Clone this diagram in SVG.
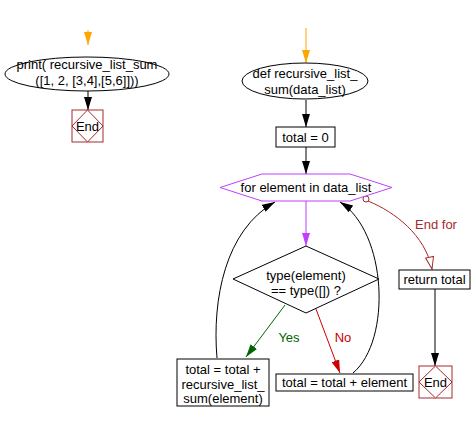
<svg xmlns="http://www.w3.org/2000/svg" width="474" height="422" viewBox="0 0 474 422">
<style>
text{font-family:"Liberation Sans",Arial,sans-serif;font-size:13px;fill:#000;text-anchor:middle}
.n{fill:#fff;stroke:#000;stroke-width:1}
.e{fill:#fff;stroke:#a52a2a;stroke-width:1}
.c{fill:none;stroke:#000;stroke-width:1}
</style>
<defs>
<marker id="ab" viewBox="0 0 13 8" refX="13" refY="4" markerWidth="13" markerHeight="8" markerUnits="userSpaceOnUse" orient="auto"><path d="M0,0 L13,4 L0,8 z" fill="#000"/></marker>
<marker id="ao" viewBox="0 0 13 8" refX="13" refY="4" markerWidth="13" markerHeight="8" markerUnits="userSpaceOnUse" orient="auto"><path d="M0,0 L13,4 L0,8 z" fill="#ffa500"/></marker>
<marker id="ap" viewBox="0 0 13 8" refX="13" refY="4" markerWidth="13" markerHeight="8" markerUnits="userSpaceOnUse" orient="auto"><path d="M0,0 L13,4 L0,8 z" fill="#bf40ff"/></marker>
<marker id="ag" viewBox="0 0 13 8" refX="13" refY="4" markerWidth="13" markerHeight="8" markerUnits="userSpaceOnUse" orient="auto"><path d="M0,0 L13,4 L0,8 z" fill="#006400"/></marker>
<marker id="ar" viewBox="0 0 13 8" refX="13" refY="4" markerWidth="13" markerHeight="8" markerUnits="userSpaceOnUse" orient="auto"><path d="M0,0 L13,4 L0,8 z" fill="#cc0000"/></marker>
<marker id="aw" viewBox="0 0 14 10" refX="13" refY="5" markerWidth="14" markerHeight="10" markerUnits="userSpaceOnUse" orient="auto"><path d="M1,1 L13,5 L1,9 z" fill="#fff" stroke="#a52a2a"/></marker>
</defs>
<g id="connectors">
<path d="M88,30 L88,45" stroke="#ffa500" stroke-width="1" marker-end="url(#ao)"/>
<path d="M88,91 L88,110" class="c" marker-end="url(#ab)"/>
<path d="M306,28 L306,63" stroke="#ffa500" stroke-width="1" marker-end="url(#ao)"/>
<path d="M306,100 L306,127" class="c" marker-end="url(#ab)"/>
<path d="M306,147 L306,174" class="c" marker-end="url(#ab)"/>
<path d="M306,201 L306,246" stroke="#bf40ff" stroke-width="1" marker-end="url(#ap)"/>
<path d="M285,305 L246,357" stroke="#006400" stroke-width="1" fill="none" marker-end="url(#ag)"/>
<text x="289" y="342" style="fill:#006400">Yes</text>
<path d="M316,309 L340,373" stroke="#cc0000" stroke-width="1" fill="none" marker-end="url(#ar)"/>
<text x="343" y="342" style="fill:#cc0000">No</text>
<path d="M217,358 C212,300 225,230 275,202" class="c" marker-end="url(#ab)"/>
<path d="M353,373 C392,340 387,232 340,202" class="c" marker-end="url(#ab)"/>
<path d="M368,201 C395,212 425,235 432,269" fill="none" stroke="#a52a2a" stroke-width="1" marker-end="url(#aw)"/>
<circle cx="366" cy="199" r="3" fill="#fff" stroke="#a52a2a"/>
<text x="436" y="229" style="fill:#a52a2a">End for</text>
<path d="M435,289 L435,366" class="c" marker-end="url(#ab)"/>
</g>
<g id="print">
<ellipse cx="87" cy="74" rx="82" ry="17" class="n"/>
<text x="87" y="69">print( recursive_list_sum</text>
<text x="87" y="85">([1, 2, [3,4],[5,6]]))</text>
</g>
<g id="end1">
<rect x="72" y="110" width="31" height="32" class="e"/>
<path d="M87.5,110 L103,126 L87.5,142 L72,126 z" class="e"/>
<text x="87.5" y="131">End</text>
</g>
<g id="def">
<ellipse cx="305" cy="81" rx="63" ry="18" class="n"/>
<text x="305" y="78">def recursive_list_</text>
<text x="305" y="94">sum(data_list)</text>
</g>
<g id="init">
<rect x="276" y="127" width="59" height="20" class="n"/>
<text x="305.5" y="142">total = 0</text>
</g>
<g id="for">
<path d="M220,187.5 L262,174 L350,174 L392,187.5 L350,201 L262,201 z" fill="#fff" stroke="#bf40ff" stroke-width="1"/>
<text x="306" y="192">for element in data_list</text>
</g>
<g id="cond">
<path d="M306,246 L379,279 L306,313 L233,279 z" class="n"/>
<text x="306" y="280">type(element)</text>
<text x="306" y="295">== type([]) ?</text>
</g>
<g id="recur">
<rect x="177" y="359" width="92" height="47" class="n"/>
<text x="223" y="374">total = total +</text>
<text x="223" y="389">recursive_list_</text>
<text x="223" y="403">sum(element)</text>
</g>
<g id="add">
<rect x="276" y="374" width="137" height="17" class="n"/>
<text x="344.5" y="387">total = total + element</text>
</g>
<g id="ret">
<rect x="399" y="270" width="71" height="19" class="n"/>
<text x="434.5" y="284">return total</text>
</g>
<g id="end2">
<rect x="419" y="366" width="33" height="32" class="e"/>
<path d="M435.5,366 L452,382 L435.5,398 L419,382 z" class="e"/>
<text x="435.5" y="387">End</text>
</g>
</svg>
